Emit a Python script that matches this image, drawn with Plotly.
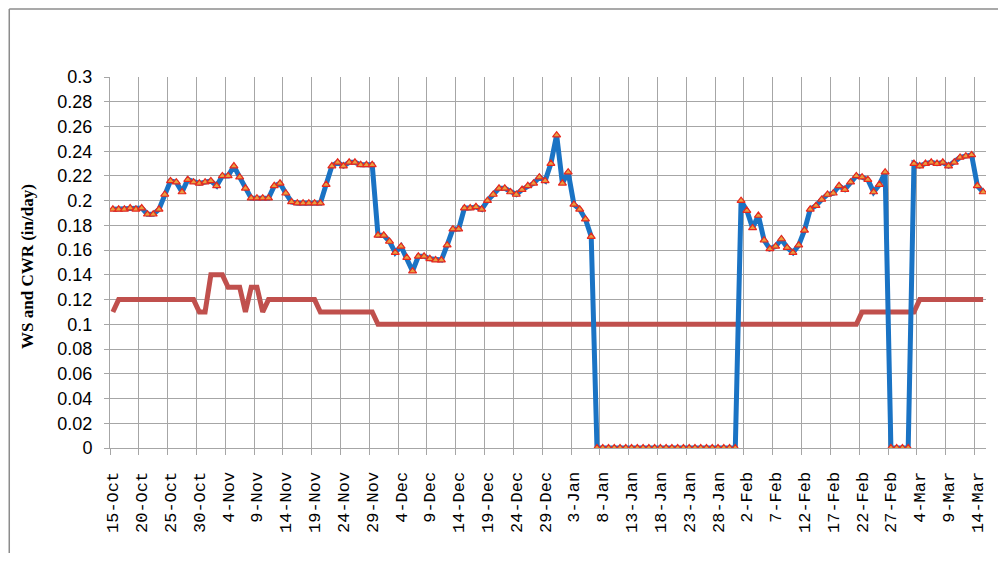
import pandas as pd
import plotly.graph_objects as go

# ---- data -------------------------------------------------------------
dates = pd.date_range("2010-10-15", "2011-03-15", freq="D")

ws = [
    0.193, 0.193, 0.193, 0.194, 0.193, 0.194, 0.189, 0.189, 0.193, 0.205,
    0.216, 0.215, 0.207, 0.217, 0.215, 0.214, 0.215, 0.216, 0.212, 0.220,
    0.220, 0.228, 0.219, 0.210, 0.202, 0.202, 0.202, 0.202, 0.212, 0.214,
    0.206, 0.199, 0.198, 0.198, 0.198, 0.198, 0.198, 0.213, 0.228, 0.231,
    0.228, 0.231, 0.231, 0.229, 0.229, 0.229, 0.172, 0.172, 0.167, 0.158,
    0.163, 0.154, 0.143, 0.155, 0.155, 0.153, 0.152, 0.152, 0.164, 0.177,
    0.177, 0.194, 0.194, 0.195, 0.193, 0.200, 0.205, 0.210, 0.210, 0.207,
    0.205, 0.209, 0.212, 0.214, 0.219, 0.216, 0.230, 0.253, 0.214, 0.223,
    0.197, 0.193, 0.185, 0.171,
    0, 0, 0, 0, 0, 0, 0, 0, 0, 0, 0, 0, 0, 0, 0, 0, 0, 0, 0, 0, 0, 0, 0, 0, 0,
    0.200, 0.192, 0.178, 0.188, 0.168, 0.161, 0.163, 0.169, 0.162, 0.158,
    0.164, 0.176, 0.193, 0.196, 0.201, 0.205, 0.206, 0.212, 0.209, 0.215,
    0.220, 0.219, 0.217, 0.207, 0.213, 0.223,
    0, 0, 0, 0,
    0.230, 0.228, 0.230, 0.231, 0.230, 0.231, 0.228, 0.231, 0.235, 0.236,
    0.237, 0.212, 0.207,
]

cwr = [
    0.11,
    0.12, 0.12, 0.12, 0.12, 0.12, 0.12, 0.12, 0.12, 0.12, 0.12, 0.12, 0.12, 0.12, 0.12,
    0.11, 0.11,
    0.14, 0.14, 0.14,
    0.13, 0.13, 0.13,
    0.11,
    0.13, 0.13,
    0.11,
    0.12, 0.12, 0.12, 0.12, 0.12, 0.12, 0.12, 0.12, 0.12,
    0.11, 0.11, 0.11, 0.11, 0.11, 0.11, 0.11, 0.11, 0.11, 0.11,
    0.10, 0.10, 0.10, 0.10, 0.10, 0.10, 0.10, 0.10, 0.10, 0.10, 0.10, 0.10,
    0.10, 0.10, 0.10, 0.10, 0.10, 0.10, 0.10, 0.10, 0.10, 0.10, 0.10, 0.10,
    0.10, 0.10, 0.10, 0.10, 0.10, 0.10, 0.10, 0.10, 0.10, 0.10, 0.10, 0.10,
    0.10, 0.10, 0.10, 0.10, 0.10, 0.10, 0.10, 0.10, 0.10, 0.10, 0.10, 0.10,
    0.10, 0.10, 0.10, 0.10, 0.10, 0.10, 0.10, 0.10, 0.10, 0.10, 0.10, 0.10,
    0.10, 0.10, 0.10, 0.10, 0.10, 0.10, 0.10, 0.10, 0.10, 0.10, 0.10, 0.10,
    0.10, 0.10, 0.10, 0.10, 0.10, 0.10, 0.10, 0.10, 0.10, 0.10, 0.10, 0.10,
    0.11, 0.11, 0.11, 0.11, 0.11, 0.11, 0.11, 0.11, 0.11, 0.11,
    0.12, 0.12, 0.12, 0.12, 0.12, 0.12, 0.12, 0.12, 0.12, 0.12, 0.12, 0.12,
]

x_tick_dates = pd.date_range("2010-10-15", "2011-03-14", freq="5D")
x_tick_labels = [
    "15-Oct", "20-Oct", "25-Oct", "30-Oct", "4-Nov", "9-Nov", "14-Nov",
    "19-Nov", "24-Nov", "29-Nov", "4-Dec", "9-Dec", "14-Dec", "19-Dec",
    "24-Dec", "29-Dec", "3-Jan", "8-Jan", "13-Jan", "18-Jan", "23-Jan",
    "28-Jan", "2-Feb", "7-Feb", "12-Feb", "17-Feb", "22-Feb", "27-Feb",
    "4-Mar", "9-Mar", "14-Mar",
]
y_tick_vals = [0, 0.02, 0.04, 0.06, 0.08, 0.1, 0.12, 0.14, 0.16, 0.18,
               0.2, 0.22, 0.24, 0.26, 0.28, 0.3]
y_tick_labels = ["0", "0.02", "0.04", "0.06", "0.08", "0.1", "0.12", "0.14",
                 "0.16", "0.18", "0.2", "0.22", "0.24", "0.26", "0.28", "0.3"]

# ---- figure -----------------------------------------------------------
fig = go.Figure()
fig.add_trace(go.Scatter(
    x=dates, y=cwr, mode="lines", name="CWR",
    line=dict(color="#C0504D", width=5),
))
fig.add_trace(go.Scatter(
    x=dates, y=ws, mode="lines+markers", name="WS",
    line=dict(color="#1A73C4", width=5),
    marker=dict(symbol="triangle-up", size=7, color="#E8A040",
                line=dict(color="#E8281E", width=1.2)),
))

GRID = "#A6A6A6"
BORDER = "#8C8C8C"
half_day = pd.Timedelta(hours=12)
fig.update_layout(
    width=990, height=545,
    margin=dict(l=102, r=12, t=69, b=105),
    paper_bgcolor="white", plot_bgcolor="white",
    showlegend=False,
    xaxis=dict(
        type="date", automargin=False,
        range=[dates[0] - half_day, dates[-1] + half_day],
        tickmode="array", tickvals=x_tick_dates, ticktext=x_tick_labels,
        tickangle=-90, ticks="", showgrid=False,
        ticklabelstandoff=16,
        tickfont=dict(family="Liberation Mono", size=17, color="black"),
        showline=True, linecolor=GRID, linewidth=1,
        minor=dict(tick0=(dates[0] - half_day).strftime("%Y-%m-%d %H:%M"),
                   dtick=5 * 86400000, ticks="outside", ticklen=6,
                   tickcolor=GRID, showgrid=True, gridcolor=GRID, gridwidth=1),
        zeroline=False,
    ),
    yaxis=dict(
        range=[0, 0.3], automargin=False,
        tickmode="array", tickvals=y_tick_vals, ticktext=y_tick_labels,
        showgrid=True, gridcolor=GRID, gridwidth=1,
        ticks="outside", ticklen=5, tickcolor=GRID,
        ticklabelstandoff=8,
        tickfont=dict(family="Liberation Sans", size=18, color="black"),
        showline=True, linecolor=GRID, linewidth=1,
        zeroline=False,
    ),
    annotations=[dict(
        text="WS and CWR (in/day)", textangle=-90,
        xref="paper", yref="paper", x=-0.0936, y=0.488,
        xanchor="center", yanchor="middle", showarrow=False,
        font=dict(family="Liberation Serif", size=17, color="black",
                  weight="bold"),
    )],
    shapes=[
        dict(type="line", xref="paper", yref="paper",
             x0=-0.115, x1=-0.115, y0=-0.6, y1=1.183,
             line=dict(color=BORDER, width=1.5)),
        dict(type="line", xref="paper", yref="paper",
             x0=-0.115, x1=1.1, y0=1.183, y1=1.183,
             line=dict(color=BORDER, width=1.5)),
    ],
)

fig.write_html("out.html")
